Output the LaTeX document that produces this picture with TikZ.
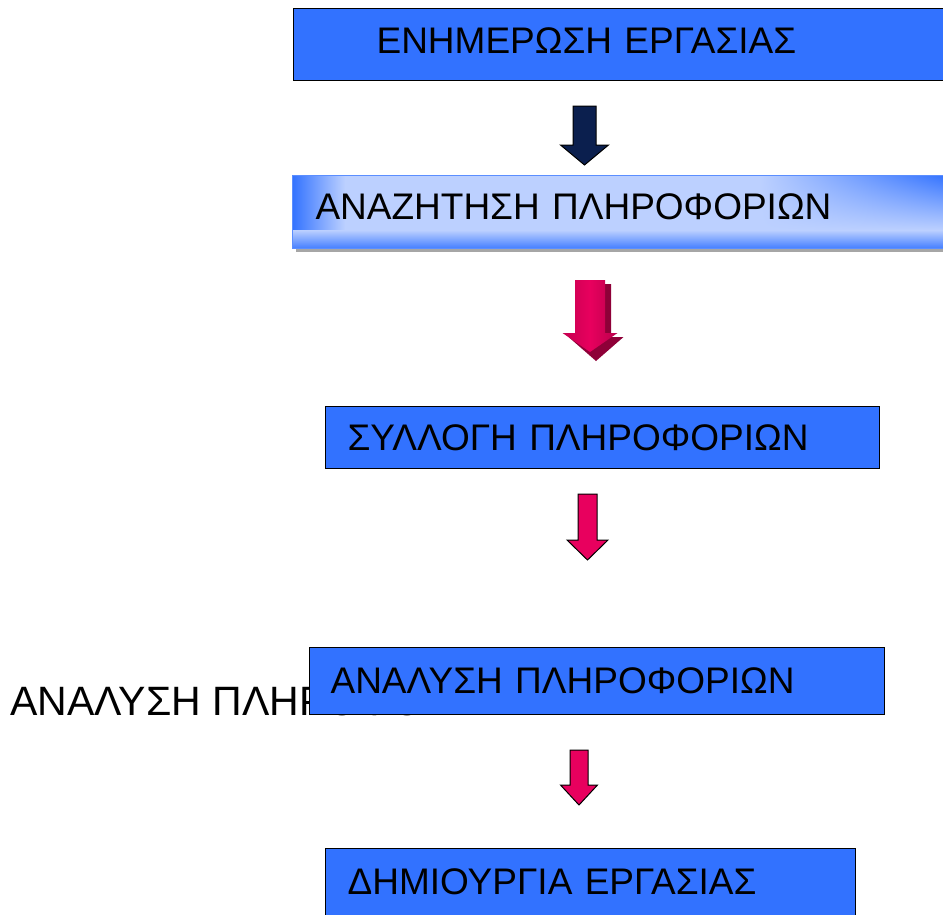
\documentclass[tikz,border=0pt]{standalone}
\usepackage{fontspec}
\setmainfont{Liberation Sans}
\usepackage{tikz}
\usetikzlibrary{positioning}
\usetikzlibrary{calc}
\usetikzlibrary{shadings}

\definecolor{boxblue}{HTML}{3272FF}
\definecolor{lightblue}{HTML}{BCD0FF}
\definecolor{navy}{HTML}{0B1F4E}
\definecolor{crimson}{HTML}{E8005E}
\definecolor{darkcrimson}{HTML}{8E0038}

\tikzset{
	box/.style={draw=black, line width=1.2pt, fill=boxblue, anchor=north west,
		inner ysep=0pt, align=left, font=\fontsize{37}{44}\selectfont},
	navyarrow/.style={draw=black, line width=1pt, fill=navy},
	redarrow/.style={draw=black, line width=1pt, fill=crimson}
}

\begin{document}
\begin{tikzpicture}[x=1pt, y=-1pt]
	\useasboundingbox (0,0) rectangle (943,914);

	% text behind the fourth box
	\node[anchor=base west, inner sep=0pt, font=\fontsize{41}{48}\selectfont] (behind) at (10,715) {ΑΝΑΛΥΣΗ ΠΛΗΡΟΦΟΡΙΩΝ};

	% boxes
	\node[box, minimum width=655, minimum height=72, text width=489, inner xsep=83, text depth=9pt] (update) at (293,8) {ΕΝΗΜΕΡΩΣΗ ΕΡΓΑΣΙΑΣ};

	% shaded box with shadow
	\fill[gray!70] (296,178) rectangle (950,252);
	\fill[lightblue] (292,175) rectangle (947,248);
	\shade[left color=boxblue, right color=lightblue] (292,175) rectangle (345,248);
	\shade[top color=lightblue, bottom color=boxblue!90] (292,230) rectangle (947,248);
	\shade[upper left=lightblue, upper right=boxblue, lower left=lightblue, lower right=lightblue] (760,175) rectangle (947,230);
	\node[box, draw=boxblue!80, line width=1pt, fill=none,
		minimum width=655, minimum height=73, text width=609, inner xsep=23, text depth=10pt] (search) at (292,175) {ΑΝΑΖΗΤΗΣΗ ΠΛΗΡΟΦΟΡΙΩΝ};

	\node[box, minimum width=554, minimum height=62, text width=510, inner xsep=22] (collect) at (325,406) {ΣΥΛΛΟΓΗ ΠΛΗΡΟΦΟΡΙΩΝ};

	\node[box, minimum width=575, minimum height=67, text width=533, inner xsep=21] (analysis) at (309,647) {ΑΝΑΛΥΣΗ ΠΛΗΡΟΦΟΡΙΩΝ};

	\node[box, minimum width=530, minimum height=70, text width=486, inner xsep=22, text depth=5pt] (create) at (325,848) {ΔΗΜΙΟΥΡΓΙΑ ΕΡΓΑΣΙΑΣ};

	% arrows
	\coordinate (a1) at (584.5,106);
	\draw[navyarrow] (a1) ++(-11.5,0) -- ++(23,0) -- ++(0,39) -- ++(12.5,0) -- ++(-24,20) -- ++(-24,-20) -- ++(12.5,0) -- cycle;

	\coordinate (a2) at (590,280);
	\fill[darkcrimson] (a2) ++(-9,4) -- ++(30,0) -- ++(0,53) -- ++(12.5,0) -- ++(-27.5,24) -- ++(-27.5,-24) -- ++(12.5,0) -- cycle;
	\shade[left color=crimson!85!black, right color=crimson!80!black, middle color=crimson]
		(a2) ++(-15,0) -- ++(30,0) -- ++(0,53) -- ++(12.5,0) -- ++(-27.5,19) -- ++(-27.5,-19) -- ++(12.5,0) -- cycle;

	\coordinate (a3) at (587.5,494);
	\draw[redarrow] (a3) ++(-9.5,0) -- ++(19,0) -- ++(0,46) -- ++(11,0) -- ++(-20.5,20) -- ++(-20.5,-20) -- ++(11,0) -- cycle;

	\coordinate (a4) at (579,750);
	\draw[redarrow] (a4) ++(-9,0) -- ++(18,0) -- ++(0,35) -- ++(9.5,0) -- ++(-18.5,20) -- ++(-18.5,-20) -- ++(9.5,0) -- cycle;
\end{tikzpicture}
\end{document}
